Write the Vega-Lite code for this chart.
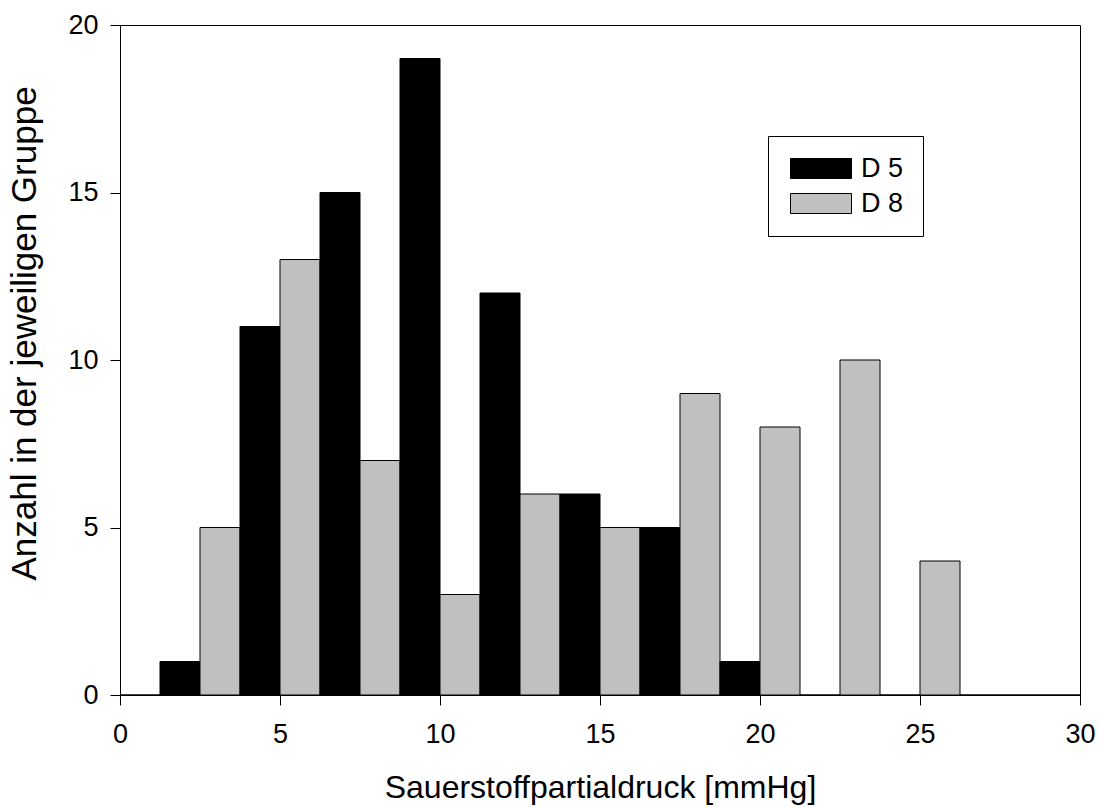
{
  "$schema": "https://vega.github.io/schema/vega-lite/v6.json",
  "width": 960,
  "height": 670,
  "autosize": "none",
  "padding": {"left": 120, "top": 25, "right": 18, "bottom": 112},
  "background": "white",
  "config": {
    "font": "Liberation Sans",
    "view": {"stroke": "black", "strokeWidth": 1},
    "axis": {
      "grid": false,
      "domainColor": "black",
      "tickColor": "black",
      "labelColor": "black",
      "titleColor": "black",
      "labelFont": "Liberation Sans",
      "titleFont": "Liberation Sans",
      "labelFontSize": 27,
      "titleFontWeight": "normal",
      "tickSize": 10
    }
  },
  "data": {
    "values": [
      {"group": "D 8", "start": 0, "end": 1.25, "count": 0},
      {"group": "D 5", "start": 1.25, "end": 2.5, "count": 1},
      {"group": "D 8", "start": 2.5, "end": 3.75, "count": 5},
      {"group": "D 5", "start": 3.75, "end": 5, "count": 11},
      {"group": "D 8", "start": 5, "end": 6.25, "count": 13},
      {"group": "D 5", "start": 6.25, "end": 7.5, "count": 15},
      {"group": "D 8", "start": 7.5, "end": 8.75, "count": 7},
      {"group": "D 5", "start": 8.75, "end": 10, "count": 19},
      {"group": "D 8", "start": 10, "end": 11.25, "count": 3},
      {"group": "D 5", "start": 11.25, "end": 12.5, "count": 12},
      {"group": "D 8", "start": 12.5, "end": 13.75, "count": 6},
      {"group": "D 5", "start": 13.75, "end": 15, "count": 6},
      {"group": "D 8", "start": 15, "end": 16.25, "count": 5},
      {"group": "D 5", "start": 16.25, "end": 17.5, "count": 5},
      {"group": "D 8", "start": 17.5, "end": 18.75, "count": 9},
      {"group": "D 5", "start": 18.75, "end": 20, "count": 1},
      {"group": "D 8", "start": 20, "end": 21.25, "count": 8},
      {"group": "D 5", "start": 21.25, "end": 22.5, "count": 0},
      {"group": "D 8", "start": 22.5, "end": 23.75, "count": 10},
      {"group": "D 5", "start": 23.75, "end": 25, "count": 0},
      {"group": "D 8", "start": 25, "end": 26.25, "count": 4},
      {"group": "D 5", "start": 26.25, "end": 27.5, "count": 0},
      {"group": "D 8", "start": 27.5, "end": 28.75, "count": 0},
      {"group": "D 5", "start": 28.75, "end": 30, "count": 0}
    ]
  },
  "mark": {"type": "rect", "stroke": "black", "strokeWidth": 1, "opacity": 1},
  "encoding": {
    "x": {
      "field": "start", "type": "quantitative",
      "scale": {"domain": [0, 30], "nice": false, "zero": false},
      "axis": {"values": [0, 5, 10, 15, 20, 25, 30], "labelPadding": 16, "title": "Sauerstoffpartialdruck [mmHg]", "titleFontSize": 32, "titlePadding": 25, "labelFlush": false}
    },
    "x2": {"field": "end"},
    "y": {
      "field": "count", "type": "quantitative",
      "scale": {"domain": [0, 20], "nice": false},
      "axis": {"values": [0, 5, 10, 15, 20], "labelPadding": 12, "title": "Anzahl in der jeweiligen Gruppe", "titleFontSize": 35, "titlePadding": 25, "titleY": 308}
    },
    "y2": {"datum": 0},
    "fill": {
      "field": "group", "type": "nominal",
      "scale": {"domain": ["D 5", "D 8"], "range": ["black", "#c0c0c0"]},
      "legend": {
        "title": null,
        "orient": "none",
        "legendX": 648,
        "legendY": 111,
        "strokeColor": "black",
        "fillColor": "white",
        "padding": 19,
        "symbolType": "M-1,-1H5.1V1H-1Z",
        "symbolSize": 400,
        "symbolStrokeColor": "black",
        "symbolStrokeWidth": 1,
        "symbolOpacity": 1,
        "labelFont": "Liberation Sans",
        "labelFontSize": 27,
        "labelColor": "black",
        "labelOffset": 47,
        "rowPadding": 7
      }
    }
  }
}
